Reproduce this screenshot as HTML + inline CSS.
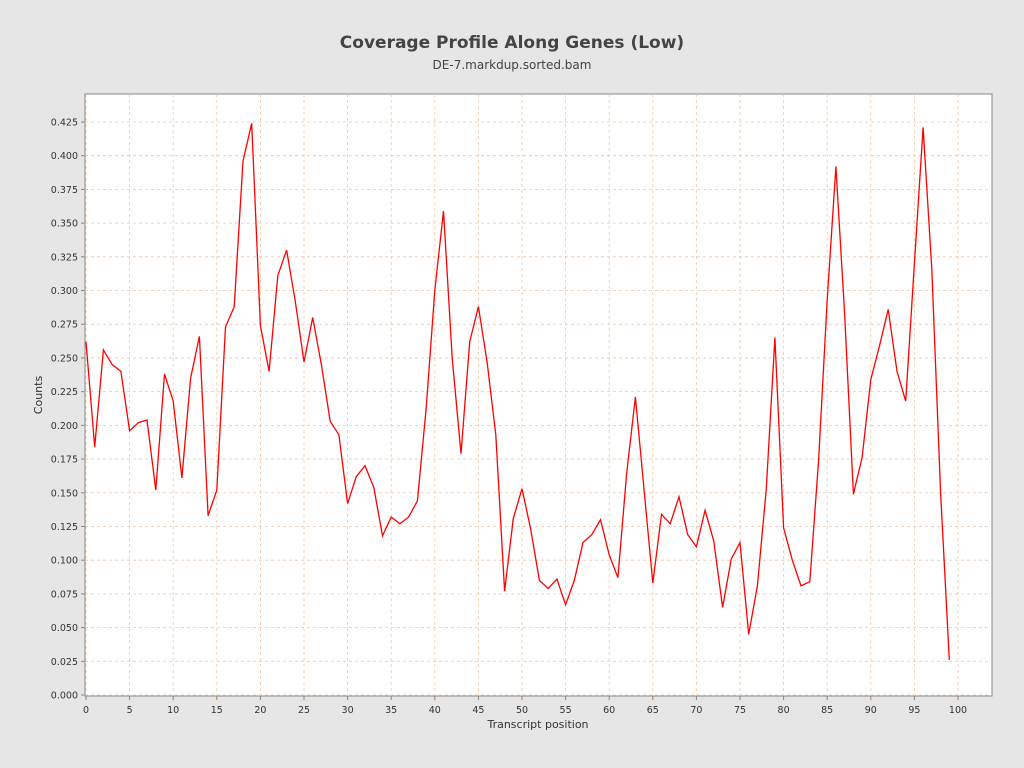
<!DOCTYPE html>
<html><head><meta charset="utf-8"><style>
body{margin:0;background:#e6e6e6;}
svg{display:block;font-family:"DejaVu Sans","Liberation Sans",sans-serif;}
</style></head><body>
<svg id="s" width="1024" height="768" xmlns="http://www.w3.org/2000/svg">
<rect width="1024" height="768" fill="#e6e6e6"/>
<text x="512" y="48" text-anchor="middle" font-size="17" font-weight="bold" fill="#444">Coverage Profile Along Genes (Low)</text>
<text x="512" y="69" text-anchor="middle" font-size="12" fill="#444">DE-7.markdup.sorted.bam</text>
<rect x="85" y="94" width="907" height="602" fill="#fff" stroke="#888"/>
<g id="g"></g>
<text x="42" y="395" text-anchor="middle" font-size="11" fill="#333" transform="rotate(-90 42 395)">Counts</text>
<text x="538" y="728" text-anchor="middle" font-size="11" fill="#333">Transcript position</text>
</svg>
<script>
var d=[0.262,0.184,0.256,0.245,0.240,0.196,0.202,0.204,0.152,0.238,0.218,0.161,0.235,0.266,0.133,0.152,0.273,0.288,0.396,0.424,0.274,0.240,0.311,0.330,0.292,0.247,0.280,0.245,0.203,0.193,0.142,0.162,0.170,0.154,0.118,0.132,0.127,0.132,0.144,0.212,0.300,0.359,0.250,0.179,0.262,0.288,0.247,0.193,0.077,0.131,0.153,0.123,0.085,0.079,0.086,0.067,0.085,0.113,0.119,0.130,0.104,0.087,0.164,0.221,0.152,0.083,0.134,0.127,0.147,0.119,0.110,0.137,0.114,0.065,0.101,0.113,0.045,0.081,0.152,0.265,0.124,0.100,0.081,0.084,0.173,0.293,0.392,0.283,0.149,0.176,0.234,0.259,0.286,0.240,0.218,0.320,0.421,0.316,0.150,0.026];
function X(i){return 86+i*8.72;}function Y(v){return 695-v*(573/0.425);}
var h='';
for(var k=0;k<=17;k++){var v=k*0.025,y=Y(v);
h+='<line x1="85" x2="992" y1="'+y+'" y2="'+y+'" stroke="#f0c8a8" stroke-dasharray="3,3" stroke-width="0.8"/>';
h+='<line x1="81" x2="85" y1="'+y+'" y2="'+y+'" stroke="#888"/>';
h+='<text x="78" y="'+(y+3.5)+'" text-anchor="end" font-size="9.5" fill="#333">'+v.toFixed(3)+'</text>';}
for(var i=0;i<=100;i+=5){var x=X(i);
h+='<line y1="94" y2="696" x1="'+x+'" x2="'+x+'" stroke="#f0c8a8" stroke-dasharray="3,3" stroke-width="0.8"/>';
h+='<line y1="696" y2="700" x1="'+x+'" x2="'+x+'" stroke="#888"/>';
h+='<text y="713" x="'+x+'" text-anchor="middle" font-size="9.5" fill="#333">'+i+'</text>';}
var p=d.map(function(v,i){return X(i).toFixed(1)+','+Y(v).toFixed(1)}).join(' ');
h+='<polyline points="'+p+'" fill="none" stroke="#f00" stroke-width="1.3"/>';
document.getElementById('g').innerHTML=h;
</script>
</body></html>
